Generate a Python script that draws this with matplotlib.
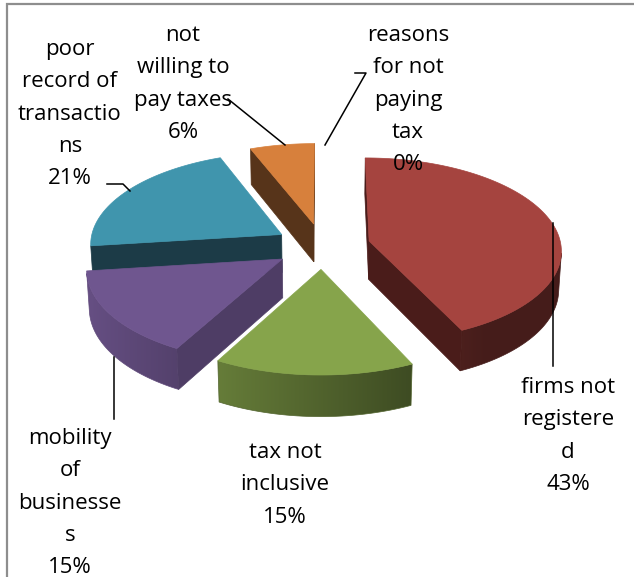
import numpy as np
import matplotlib
matplotlib.use("Agg")
import matplotlib.pyplot as plt
from matplotlib.patches import Polygon
from matplotlib.colors import to_rgb

# ---- data ----
categories = ["reasons for not paying tax", "firms not registered", "tax not inclusive",
              "mobility of businesses", "poor record of transactions", "not willing to pay taxes"]
shares = [0, 43, 15, 15, 21, 6]
label_lines = [
    ["reasons", "for not", "paying", "tax", "0%"],
    ["firms not", "registere", "d", "43%"],
    ["tax not", "inclusive", "15%"],
    ["mobility", "of", "businesse", "s", "15%"],
    ["poor", "record of", "transactio", "ns", "21%"],
    ["not", "willing to", "pay taxes", "6%"],
]

# ---- style ----
top_colors = ["#4F81BD", "#A5443F", "#86A44B", "#6F568F", "#4095AD", "#D7803C"]
face_colors = ["#2A4565", "#4A1C1A", "#3E4E24", "#4E3D65", "#1C3B47", "#57341A"]

# 3D projection parameters (pixel space)
CX, CY = 322.5, 246.0
SCALE = 192.0
TILT = np.radians(28.46)
DIST = 9.68
THICK = 0.23
EXPLODE = 0.25

cam = np.array([0.0, -DIST * np.cos(TILT), DIST * np.sin(TILT)])


def project(X, Y, Z):
    X, Y, Z = np.asarray(X, float), np.asarray(Y, float), np.asarray(Z, float)
    depth = DIST + Y * np.cos(TILT) - Z * np.sin(TILT)
    sx = CX + SCALE * DIST * X / depth
    sy = CY - SCALE * DIST * (Y * np.sin(TILT) + Z * np.cos(TILT)) / depth
    return np.column_stack([sx, sy])


def visible(point, normal):
    return np.dot(cam - np.asarray(point), np.asarray(normal)) > 0


def shade(color, f):
    r, g, b = to_rgb(color)
    return np.array([min(r * f, 1), min(g * f, 1), min(b * f, 1)])


fig = plt.figure(figsize=(6.34, 5.77), dpi=100)
ax = fig.add_axes([0, 0, 1, 1])
ax.axis("off")

# frame
ax.plot([7, 7, 634], [577, 4, 4], color="#8E8E8E", lw=1.6, solid_joinstyle="miter", zorder=1)

total = float(sum(shares))
bounds = np.concatenate([[0], np.cumsum(shares)]) / total * 2 * np.pi
slices = []
for i, v in enumerate(shares):
    if v <= 0:
        continue
    a1, a2 = bounds[i], bounds[i + 1]
    mid = 0.5 * (a1 + a2)
    ox, oy = EXPLODE * np.sin(mid), EXPLODE * np.cos(mid)
    slices.append((oy, i, a1, a2, ox))


def draw_side(th, ox, oy, top, z):
    """Curved outer wall over the angles th, shaded left-to-right."""
    rx, ry = ox + np.sin(th), oy + np.cos(th)
    up = project(rx, ry, np.zeros_like(th))
    dn = project(rx, ry, np.full_like(th, -THICK))
    outline = np.vstack([up, dn[::-1]])
    fvals = np.clip(0.6 - 0.33 * np.sin(th), 0.42, 0.95)
    cols = np.array([shade(top, f) for f in fvals])
    x0, x1 = outline[:, 0].min(), outline[:, 0].max()
    y0, y1 = outline[:, 1].min(), outline[:, 1].max()
    ncol = max(int(x1 - x0) * 2, 2)
    xs = np.linspace(x0, x1, ncol)
    order = np.argsort(up[:, 0])
    img = np.stack([np.interp(xs, up[order, 0], cols[order, c]) for c in range(3)], axis=-1)
    img = np.repeat(img[None, :, :], 4, axis=0)
    clip = Polygon(outline, closed=True, transform=ax.transData)
    im = ax.imshow(img, extent=(x0, x1, y1, y0), origin="upper", aspect="auto",
                   interpolation="bilinear", zorder=z)
    im.set_clip_path(clip)
    mean_c = cols.mean(axis=0)
    ax.add_patch(Polygon(outline, closed=True, fc="none", ec=mean_c, lw=0.5, zorder=z))


# far slices first
slices.sort(key=lambda s: -s[0])
z = 2
for oy, i, a1, a2, ox in slices:
    top = top_colors[i]
    n = max(int(np.degrees(a2 - a1) / 1.5), 4)
    th = np.linspace(a1, a2, n + 1)

    # outer curved side: visible runs only
    vis = []
    for k in range(n):
        tm = 0.5 * (th[k] + th[k + 1])
        nrm = (np.sin(tm), np.cos(tm), 0.0)
        pm = (ox + np.sin(tm), oy + np.cos(tm), -THICK / 2)
        vis.append(visible(pm, nrm))
    k = 0
    while k < n:
        if vis[k]:
            s = k
            while k < n and vis[k]:
                k += 1
            draw_side(th[s:k + 1], ox, oy, top, z)
        else:
            k += 1

    # radial cut faces
    for a, nrm in ((a1, (-np.cos(a1), np.sin(a1), 0.0)), (a2, (np.cos(a2), -np.sin(a2), 0.0))):
        ex, ey = ox + np.sin(a), oy + np.cos(a)
        pm = (0.5 * (ox + ex), 0.5 * (oy + ey), -THICK / 2)
        if not visible(pm, nrm):
            continue
        pts = project([ox, ex, ex, ox], [oy, ey, ey, oy], [0, 0, -THICK, -THICK])
        ax.add_patch(Polygon(pts, closed=True, fc=face_colors[i], ec=face_colors[i],
                             lw=0.5, zorder=z))

    # top face
    rx, ry = ox + np.sin(th), oy + np.cos(th)
    pts = project(np.concatenate([[ox], rx]), np.concatenate([[oy], ry]), np.zeros(n + 2))
    ax.add_patch(Polygon(pts, closed=True, fc=top, ec=top, lw=0.5, zorder=z + 0.5))
    z += 1

# data labels
label_pos = [(408, 41), (568, 393), (285, 458), (70, 444), (70, 55), (183, 41)]
LINE = 32.3
for lines, (lx, ly) in zip(label_lines, label_pos):
    for j, t in enumerate(lines):
        ax.text(lx, ly + j * LINE, t, ha="center", va="baseline",
                family=["Open Sans", "DejaVu Sans"], fontsize=16, color="black", zorder=20)

# leader lines
lk = dict(color="black", lw=1.1, zorder=15)
ax.plot([355, 366, 325], [73, 73, 145], **lk)            # reasons for not paying tax
ax.plot([228, 285], [99, 145], **lk)                      # not willing to pay taxes
ax.plot([107, 123, 130], [184, 184, 191], **lk)           # poor record of transactions
ax.plot([553, 553], [223, 366], **lk)                     # firms not registered
ax.plot([114, 114], [357, 419], **lk)                     # mobility of businesses

ax.set_xlim(0, 634)
ax.set_ylim(577, 0)
fig.savefig("out.png", dpi=100)
